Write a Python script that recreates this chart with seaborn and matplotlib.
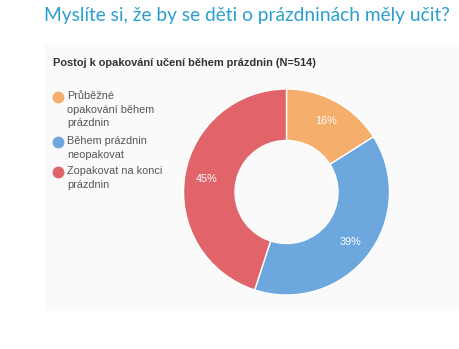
import matplotlib
matplotlib.use("Agg")
import matplotlib.pyplot as plt
from matplotlib.lines import Line2D
from matplotlib.patches import Rectangle
import seaborn as sns

categories = ["Průběžné\nopakování během\nprázdnin", "Během prázdnin\nneopakovat", "Zopakovat na konci\nprázdnin"]
values = [16, 39, 45]
colors = ["#F5AE6B", "#6CA7DD", "#E0646A"]

sns.set_theme(style="white")
plt.rcParams['font.family'] = ['Liberation Sans', 'DejaVu Sans']

W, H = 460, 349
fig = plt.figure(figsize=(W/100, H/100), dpi=100)
fig.patch.set_facecolor("white")

# faint panel
fig.patches.append(Rectangle((45/W, 1-311/H), 1-45/W, (311-45)/H,
                             transform=fig.transFigure, facecolor="#fafafa",
                             edgecolor="none", zorder=-5))

fig.text(247/W, 1-16/H, "Myslíte si, že by se děti o prázdninách měly učit?",
         ha="center", va="center", fontsize=13.8, color="#2A9FD0", family=["Lato", "DejaVu Sans"])
fig.text(53/W, 1-63/H, "Postoj k opakování učení během prázdnin (N=514)",
         ha="left", va="center", fontsize=7.9, fontweight="bold", color="#333333")

ax = fig.add_axes([(286.5-103)/W, (349-295)/H, 206/W, 206/H])
wedges, texts, autotexts = ax.pie(values, colors=colors, startangle=90, counterclock=False,
                                  radius=1, wedgeprops=dict(width=0.5, edgecolor="white", linewidth=1),
                                  autopct=lambda p: f"{p:.0f}%", pctdistance=0.79)
for t in autotexts:
    t.set_color("white")
    t.set_fontsize(7.8)
ax.set_xlim(-1, 1)
ax.set_ylim(-1, 1)
ax.set_aspect("equal")
ax.axis("off")

# legend: marker aligned with first line of each (wrapped) label
y = 97
line_h = 15
for lab, c in zip(categories, colors):
    fig.add_artist(Line2D([58/W], [1-y/H], marker="o", linestyle="none", markersize=7.5,
                          markerfacecolor=c, markeredgecolor=c, transform=fig.transFigure))
    fig.text(67/W, 1-(y-6)/H, lab, ha="left", va="top", fontsize=7.8,
             color="#555555", linespacing=1.45)
    y += line_h * (lab.count("\n") + 1)

fig.savefig("out.png", dpi=100)
